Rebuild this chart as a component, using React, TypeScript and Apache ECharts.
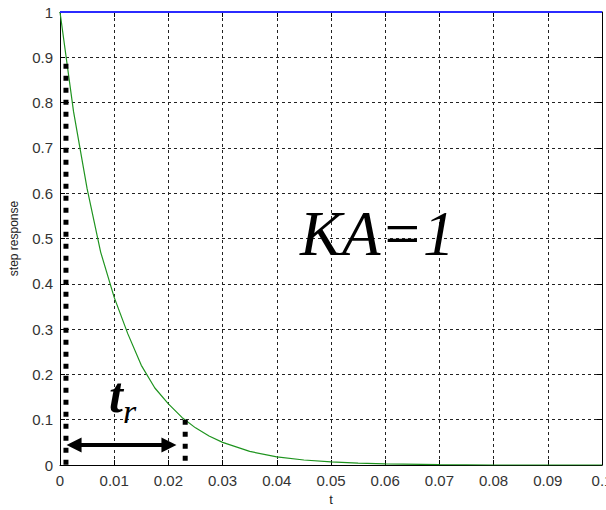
import React, { useEffect, useRef } from "react";
import * as echarts from "echarts";

const tValues = [0, 0.0025, 0.005, 0.0075, 0.01, 0.0125, 0.015, 0.0175, 0.02, 0.0225, 0.025, 0.0275, 0.03, 0.035, 0.04, 0.045, 0.05, 0.055, 0.06, 0.07, 0.08, 0.09, 0.1];
const responseValues = [1, 0.78, 0.61, 0.47, 0.37, 0.29, 0.22, 0.17, 0.135, 0.105, 0.082, 0.064, 0.05, 0.03, 0.018, 0.011, 0.007, 0.004, 0.0025, 0.001, 0, 0, 0];
const finalLine = [[0, 1], [0.1, 1]];
const startMarker = [[0.0011, 0.886], [0.0011, 0]];
const endMarker = [[0.0231, 0.1], [0.0231, 0.008]];
const arrowFrom = [0.0026, 0.044];
const arrowTo = [0.0201, 0.044];
const xTicks = ["0", "0.01", "0.02", "0.03", "0.04", "0.05", "0.06", "0.07", "0.08", "0.09", "0.1"];

export default function App() {
  const ref = useRef<HTMLDivElement>(null);
  useEffect(() => {
    document.body.style.margin = "0";
    const chart = echarts.init(ref.current!, undefined, { renderer: "svg" });
    const labelFont = { fontFamily: "Liberation Sans", fontSize: 15, color: "#333" };
    chart.setOption({
      animation: false,
      backgroundColor: "#fff",
      grid: { left: 60, right: 4, top: 12, bottom: 45, containLabel: false, outerBoundsMode: "none" },
      xAxis: [
        {
          type: "value", min: 0, max: 0.1, interval: 0.01,
          name: "t", nameLocation: "middle", nameGap: 28,
          nameTextStyle: { fontFamily: "Liberation Sans", fontSize: 13, color: "#222" },
          axisLine: { show: true, onZero: false, lineStyle: { color: "#000", width: 1 } },
          axisTick: { show: true, inside: true, length: 5, lineStyle: { color: "#000" } },
          axisLabel: {
            ...labelFont, margin: 8, hideOverlap: false,
            formatter: (v: number) => xTicks[Math.round(v * 100)] ?? "",
          },
          splitLine: { show: true, lineStyle: { color: "#222", type: [3, 3], width: 1 } },
        },
        {
          type: "value", min: 0, max: 0.1, interval: 0.01, position: "top",
          axisLine: { show: true, onZero: false, lineStyle: { color: "#000", width: 1 } },
          axisTick: { show: true, inside: true, length: 5, lineStyle: { color: "#000" } },
          axisLabel: { show: false }, splitLine: { show: false },
        },
      ],
      yAxis: [
        {
          type: "value", min: 0, max: 1, interval: 0.1,
          name: "step response", nameLocation: "middle", nameGap: 40,
          nameTextStyle: { fontFamily: "Liberation Sans", fontSize: 12, color: "#222" },
          axisLine: { show: true, onZero: false, lineStyle: { color: "#000", width: 1 } },
          axisTick: { show: true, inside: true, length: 5, lineStyle: { color: "#000" } },
          axisLabel: { ...labelFont, margin: 7, formatter: (v: number) => String(Math.round(v * 10) / 10) },
          splitLine: { show: true, lineStyle: { color: "#222", type: [3, 3], width: 1 } },
        },
        {
          type: "value", min: 0, max: 1, interval: 0.1, position: "right",
          axisLine: { show: true, onZero: false, lineStyle: { color: "#000", width: 1 } },
          axisTick: { show: true, inside: true, length: 5, lineStyle: { color: "#000" } },
          axisLabel: { show: false }, splitLine: { show: false },
        },
      ],
      series: [
        {
          type: "line", data: tValues.map((t, i) => [t, responseValues[i]]),
          symbol: "none", lineStyle: { color: "#1f941f", width: 1.2 }, z: 3,
        },
        {
          type: "line", data: finalLine, symbol: "none",
          lineStyle: { color: "#2b2bff", width: 2 }, z: 4,
        },
        {
          type: "line", data: startMarker, symbol: "none",
          lineStyle: { color: "#000", width: 5, type: [5, 7], cap: "butt" }, z: 5,
        },
        {
          type: "line", data: endMarker, symbol: "none",
          lineStyle: { color: "#000", width: 5, type: [5, 7], cap: "butt" }, z: 5,
          markLine: {
            silent: true,
            symbol: ["triangle", "triangle"],
            symbolSize: [15, 15],
            label: { show: false },
            lineStyle: { color: "#000", width: 4, type: "solid" },
            data: [[{ coord: arrowFrom }, { coord: arrowTo }]],
          },
        },
      ],
      graphic: [
        {
          type: "text", z: 10,
          style: { text: "t", x: 116, y: 395, textAlign: "center", textVerticalAlign: "middle", font: "bold italic 50px 'Liberation Serif'", fill: "#000" },
        },
        {
          type: "text", z: 10,
          style: { text: "r", x: 123, y: 411, textAlign: "left", textVerticalAlign: "middle", font: "italic 34px 'Liberation Serif'", fill: "#000" },
        },
        {
          type: "text", z: 10,
          style: { text: "KA=1", x: 300, y: 234, textAlign: "left", textVerticalAlign: "middle", font: "italic 63px 'Liberation Serif'", fill: "#000" },
        },
      ],
    });
    return () => chart.dispose();
  }, []);
  return <div ref={ref} style={{ width: 606, height: 510 }} />;
}
